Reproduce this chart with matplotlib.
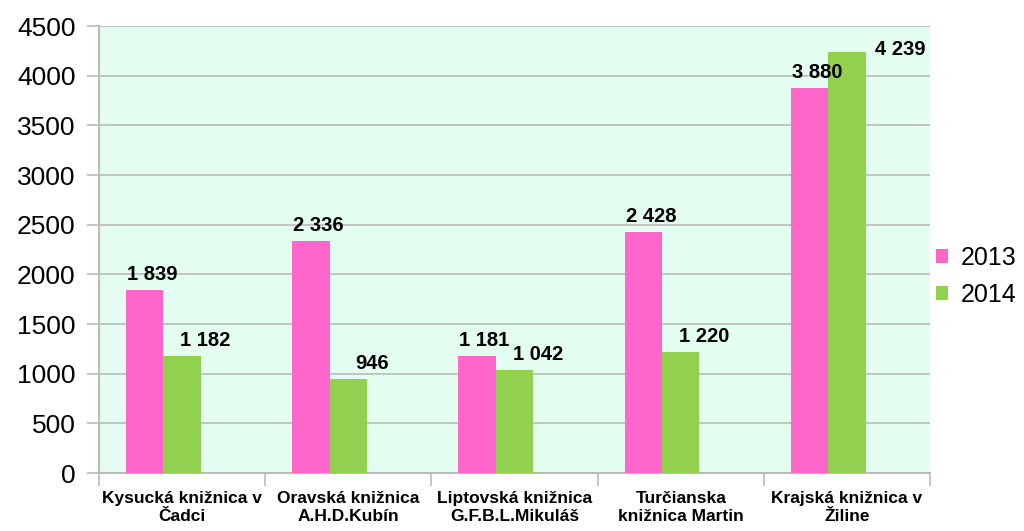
import matplotlib.pyplot as plt
import numpy as np

# Údaje
kniznice = ["Kysucká knižnica v\nČadci", "Oravská knižnica\nA.H.D.Kubín",
            "Liptovská knižnica\nG.F.B.L.Mikuláš", "Turčianska\nknižnica Martin",
            "Krajská knižnica v\nŽiline"]
hodnoty_2013 = [1839, 2336, 1181, 2428, 3880]
hodnoty_2014 = [1182, 946, 1042, 1220, 4239]
roky = ["2013", "2014"]

ruzova = "#FF66CC"
zelena = "#92D050"
pozadie = "#E3FDF0"
siva = "#BBBBBB"

plt.rcParams['font.family'] = ['Liberation Sans', 'DejaVu Sans']

fig = plt.figure(figsize=(10.24, 5.31), dpi=100)
ax = fig.add_axes([0.0967, 0.109, 0.8115, 0.842])
ax.set_facecolor(pozadie)

x = np.arange(len(kniznice))
w = 0.225
ax.bar(x - w, hodnoty_2013, w, color=ruzova, label=roky[0], zorder=3)
ax.bar(x, hodnoty_2014, w, color=zelena, label=roky[1], zorder=3)

def fmt(v):
    return f"{v:,}".replace(",", " ")

for i, v in enumerate(hodnoty_2013):
    ax.text(x[i] - w + 0.045, v + 60, fmt(v), ha="center", va="bottom",
            fontsize=14.5, fontweight="heavy", zorder=4)
for i, v in enumerate(hodnoty_2014):
    dx = 0.14 if i < 4 else 0.32
    dy = 60 if i < 4 else -70
    ax.text(x[i] + dx, v + dy, fmt(v), ha="center", va="bottom",
            fontsize=14.5, fontweight="heavy", zorder=4)

ax.set_xlim(-0.5, len(kniznice) - 0.5)
ax.set_ylim(0, 4500)
ax.set_yticks(range(0, 4501, 500))
ax.yaxis.grid(True, color=siva, linewidth=1.2, zorder=0)
ax.tick_params(axis="y", labelsize=19, length=9, color=siva, width=1.2, pad=8)

ax.set_xticks(x)
ax.set_xticklabels(kniznice, fontsize=12.5, fontweight="bold")
ax.set_xticks(np.arange(-0.5, len(kniznice)), minor=True)
ax.tick_params(axis="x", which="major", length=0, pad=13)
ax.tick_params(axis="x", which="minor", length=9, color=siva, width=1.2)

for s in ["top", "right"]:
    ax.spines[s].set_visible(False)
ax.spines["left"].set_color(siva)
ax.spines["left"].set_linewidth(1.5)
ax.spines["bottom"].set_color(siva)
ax.spines["bottom"].set_linewidth(1.5)

ax.legend(loc="center left", bbox_to_anchor=(0.995, 0.44), frameon=False,
          borderaxespad=0, fontsize=18, handlelength=0.5, handleheight=0.5,
          handletextpad=0.5, labelspacing=0.5)

fig.savefig("out.png", dpi=100, facecolor="white")
